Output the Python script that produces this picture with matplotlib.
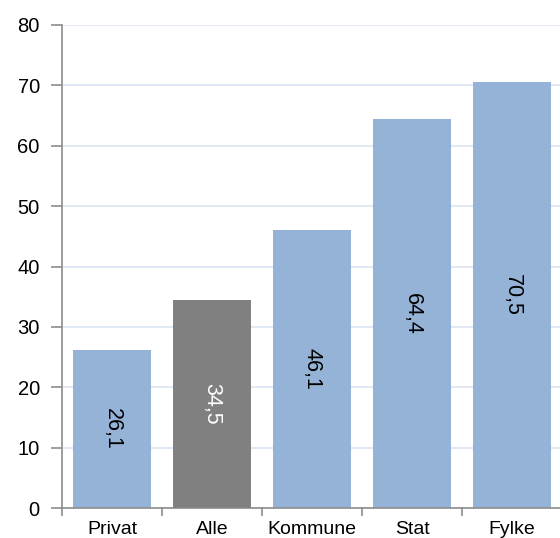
import numpy as np
import matplotlib
matplotlib.use('Agg')
import matplotlib.pyplot as plt

categories = ['Privat', 'Alle', 'Kommune', 'Stat', 'Fylke']
values = [26.1, 34.5, 46.1, 64.4, 70.5]
labels = ['26,1', '34,5', '46,1', '64,4', '70,5']
highlight = 'Alle'

blue = '#95b3d7'
grey = '#808080'
axis_col = '#8c8c8c'

plt.rcParams['font.family'] = ['Liberation Sans', 'DejaVu Sans']

fig = plt.figure(figsize=(5.6, 5.38), dpi=100)
ax = fig.add_axes([62/560, 30/538, 500/560, 483/538])

x = np.arange(len(categories))
cols = [grey if c == highlight else blue for c in categories]
bars = ax.bar(x, values, width=0.78, color=cols, zorder=2)

# value labels, rotated, in the middle of each bar
for xi, v, lab, c in zip(x, values, labels, categories):
    tc = 'white' if c == highlight else 'black'
    ax.text(xi, v/2, lab, rotation=270, ha='center', va='center',
            fontsize=15.5, color=tc, zorder=3)

ax.set_xlim(-0.5, len(categories) - 0.5)
ax.set_ylim(0, 80)
ax.set_yticks(np.arange(0, 81, 10))
ax.yaxis.grid(True, color='#dce6f2', linewidth=1.2, zorder=0)
ax.set_axisbelow(True)

ax.set_xticks(x)
ax.set_xticklabels(categories, fontsize=14)
ax.set_xticks(np.arange(-0.5, len(categories), 1), minor=True)
ax.tick_params(axis='x', which='major', length=0, pad=9)
ax.tick_params(axis='x', which='minor', length=6, width=1.2, color=axis_col)
ax.tick_params(axis='y', length=8, width=1.2, color=axis_col, labelsize=14.5, pad=8)

for s in ['top', 'right']:
    ax.spines[s].set_visible(False)
for s in ['left', 'bottom']:
    ax.spines[s].set_color(axis_col)
    ax.spines[s].set_linewidth(1.2)

fig.savefig('out.png', dpi=100)
